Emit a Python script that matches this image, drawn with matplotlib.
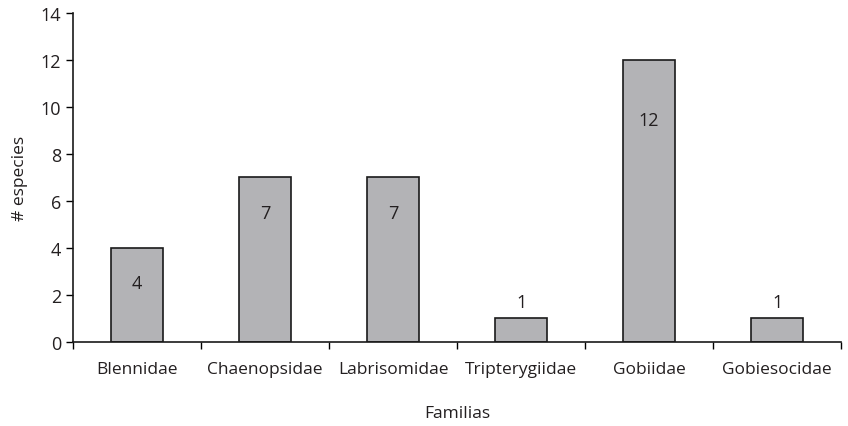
import matplotlib.pyplot as plt
import numpy as np

# datos
familias = ['Blennidae', 'Chaenopsidae', 'Labrisomidae', 'Tripterygiidae', 'Gobiidae', 'Gobiesocidae']
especies = [4, 7, 7, 1, 12, 1]
etiqueta_y = [2.5, 5.5, 5.5, 1.7, 9.45, 1.7]  # posición de los números

plt.rcParams['font.family'] = ['Open Sans', 'DejaVu Sans']

fig = plt.figure(figsize=(8.48, 4.27), dpi=100)
ax = fig.add_axes([0.086, 0.197, 0.906, 0.77])

x = np.arange(len(familias))
ax.bar(x, especies, width=0.41, color='#b3b3b6', edgecolor='#1a1a1a', linewidth=1.2)

for xi, v, ly in zip(x, especies, etiqueta_y):
    ax.text(xi, ly, str(v), ha='center', va='center', fontsize=13, color='#231f20')

ax.set_xlim(-0.5, 5.5)
ax.set_ylim(0, 14)
ax.set_yticks(range(0, 15, 2))
ax.set_xticks(x)
ax.set_xticklabels(familias)
ax.set_xticks(np.arange(-0.5, 6, 1), minor=True)
ax.tick_params(axis='x', which='major', length=0, pad=14, labelsize=12.5, labelcolor='#231f20')
ax.tick_params(axis='x', which='minor', length=5, width=1, direction='out')
ax.tick_params(axis='y', length=5, width=1, direction='out', labelsize=13, labelcolor='#231f20')

for s in ['top', 'right']:
    ax.spines[s].set_visible(False)
for s in ['left', 'bottom']:
    ax.spines[s].set_linewidth(1.2)
    ax.spines[s].set_color('#1a1a1a')

ax.set_xlabel('Familias', fontsize=12.5, labelpad=20, color='#231f20')
ax.set_ylabel('# especies', fontsize=12.5, labelpad=9, color='#231f20')

fig.savefig('out.png', dpi=100)
